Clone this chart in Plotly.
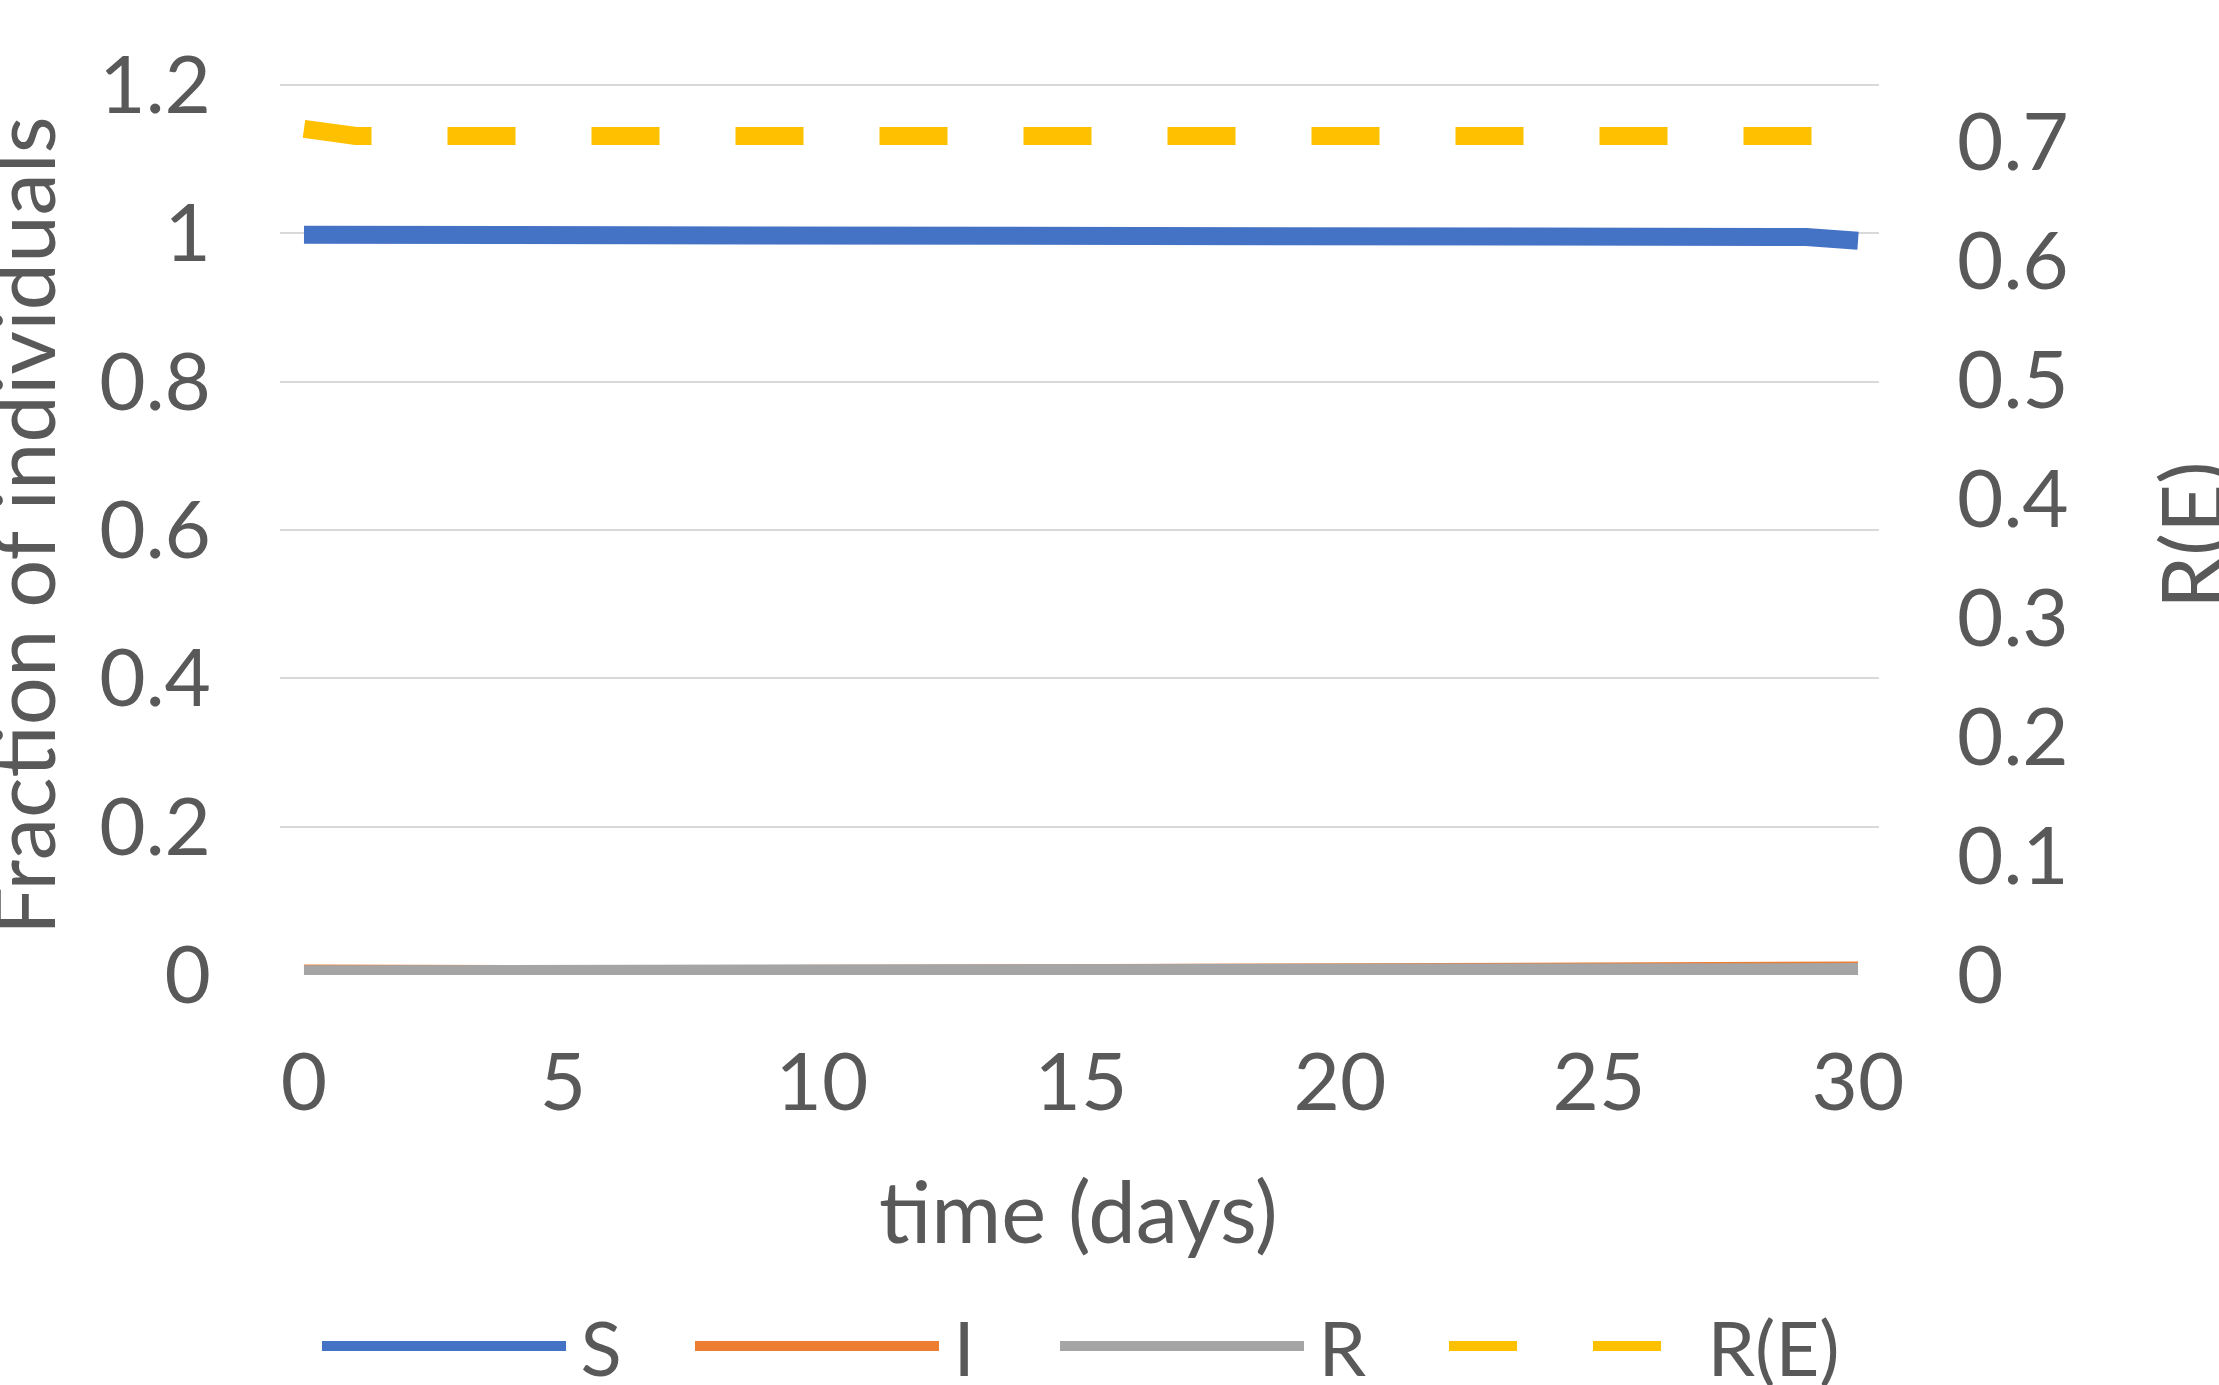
import plotly.graph_objects as go

days = list(range(0, 31))
S = [0.998, 0.998, 0.998, 0.998, 0.998, 0.998, 0.998, 0.998, 0.998, 0.998,
     0.998, 0.998, 0.998, 0.998, 0.998, 0.998, 0.998, 0.998, 0.998, 0.998,
     0.998, 0.998, 0.998, 0.998, 0.998, 0.998, 0.998, 0.997, 0.997, 0.995, 0.990]
I = [0.002, 0.001, 0.001, 0.001, 0.001, 0.001, 0.001, 0.001, 0.001, 0.001,
     0.001, 0.001, 0.001, 0.001, 0.001, 0.001, 0.001, 0.001, 0.001, 0.001,
     0.001, 0.001, 0.001, 0.001, 0.001, 0.001, 0.001, 0.002, 0.002, 0.003, 0.006]
R = [0.001, 0.001, 0.001, 0.001, 0.001, 0.001, 0.001, 0.001, 0.001, 0.001,
     0.001, 0.001, 0.001, 0.001, 0.001, 0.001, 0.001, 0.001, 0.001, 0.001,
     0.001, 0.001, 0.001, 0.001, 0.001, 0.001, 0.001, 0.001, 0.002, 0.003, 0.004]
RE = [0.711, 0.705, 0.705, 0.705, 0.705, 0.705, 0.705, 0.705, 0.705, 0.705,
      0.705, 0.705, 0.705, 0.705, 0.705, 0.705, 0.705, 0.705, 0.705, 0.705,
      0.705, 0.705, 0.705, 0.705, 0.705, 0.705, 0.705, 0.705, 0.705, 0.705, 0.705]

x_ticks = [0, 5, 10, 15, 20, 25, 30]
y_ticks = [0, 0.2, 0.4, 0.6, 0.8, 1.0, 1.2]
y_tick_text = ["0", "0.2", "0.4", "0.6", "0.8", "1", "1.2"]
y2_ticks = [0, 0.1, 0.2, 0.3, 0.4, 0.5, 0.6, 0.7]
y2_tick_text = ["0", "0.1", "0.2", "0.3", "0.4", "0.5", "0.6", "0.7"]
series_names = ["S", "I", "R", "R(E)"]
series_colors = ["#4472C4", "#ED7D31", "#A5A5A5", "#FFC000"]

FONT = "Lato"
TXT = "#595959"
FS_TICK = 80
FS_TITLE = 85
FS_LEG = 76
LW = 18

# plot area in pixels (for placing titles in paper coords)
PL, PR, PT, PB = 280, 1879, 82, 975
W, H = 2219, 1385
def px(xp):
    return (xp - PL) / (PR - PL)
def py(yp):
    return (PB - yp) / (PB - PT)

legend_ids = ["legend", "legend2", "legend3", "legend4"]
legend_x = [317, 690, 1055, 1444]
LEG_Y = 1346

fig = go.Figure()
series = [S, I, R, RE]
for k in range(4):
    fig.add_trace(go.Scatter(
        x=days, y=series[k], name="\u2009" + series_names[k], mode="lines",
        yaxis="y2" if k == 3 else "y", legend=legend_ids[k],
        line=dict(color=series_colors[k], width=LW,
                  dash="68px,76px" if k == 3 else "solid")))

layout_legends = {}
for k in range(4):
    layout_legends[legend_ids[k]] = dict(
        orientation="h", xref="container", x=legend_x[k] / W, xanchor="left",
        yref="container", y=1 - LEG_Y / H, yanchor="middle",
        itemwidth=244, font=dict(size=FS_LEG, color=TXT, family=FONT),
        bgcolor="rgba(0,0,0,0)")

fig.update_layout(
    width=W, height=H,
    margin=dict(l=PL, r=W - PR, t=PT, b=H - PB, autoexpand=False),
    paper_bgcolor="white", plot_bgcolor="white",
    font=dict(family=FONT, size=FS_TICK, color=TXT),
    showlegend=True,
    xaxis=dict(range=[-0.463, 30.405], tickvals=x_ticks, showgrid=False,
               zeroline=False, showline=False, ticks="", automargin=False,
               ticklabelstandoff=54, tickfont=dict(size=FS_TICK, color=TXT)),
    yaxis=dict(range=[0, 1.204], tickvals=y_ticks, ticktext=y_tick_text,
               showgrid=True, gridcolor="#D9D9D9", gridwidth=2,
               zeroline=False, showline=False, ticks="", automargin=False,
               ticklabelstandoff=68, tickfont=dict(size=FS_TICK, color=TXT)),
    yaxis2=dict(range=[0, 0.7504], tickvals=y2_ticks, ticktext=y2_tick_text,
                overlaying="y", side="right", showgrid=False, zeroline=False,
                showline=False, ticks="", ticklabelstandoff=77, automargin=False,
                tickfont=dict(size=FS_TICK, color=TXT)),
    annotations=[
        dict(text="Fraction of individuals", xref="paper", yref="paper",
             x=px(22), y=py(526), xanchor="center",
             yanchor="middle", textangle=-90, showarrow=False,
             font=dict(size=FS_TITLE, color=TXT)),
        dict(text="R(E)", xref="paper", yref="paper",
             x=px(2190), y=py(535), xanchor="center",
             yanchor="middle", textangle=-90, showarrow=False,
             font=dict(size=FS_TITLE, color=TXT)),
        dict(text="time (days)", xref="paper", yref="paper",
             x=px(1078), y=py(1210), xanchor="center",
             yanchor="middle", showarrow=False,
             font=dict(size=FS_TITLE, color=TXT)),
    ],
    **layout_legends,
)

fig.write_html("out.html",
               config={"displayModeBar": False},
               post_script="document.body.style.margin='0';"
                           "document.body.style.overflow='hidden';")
